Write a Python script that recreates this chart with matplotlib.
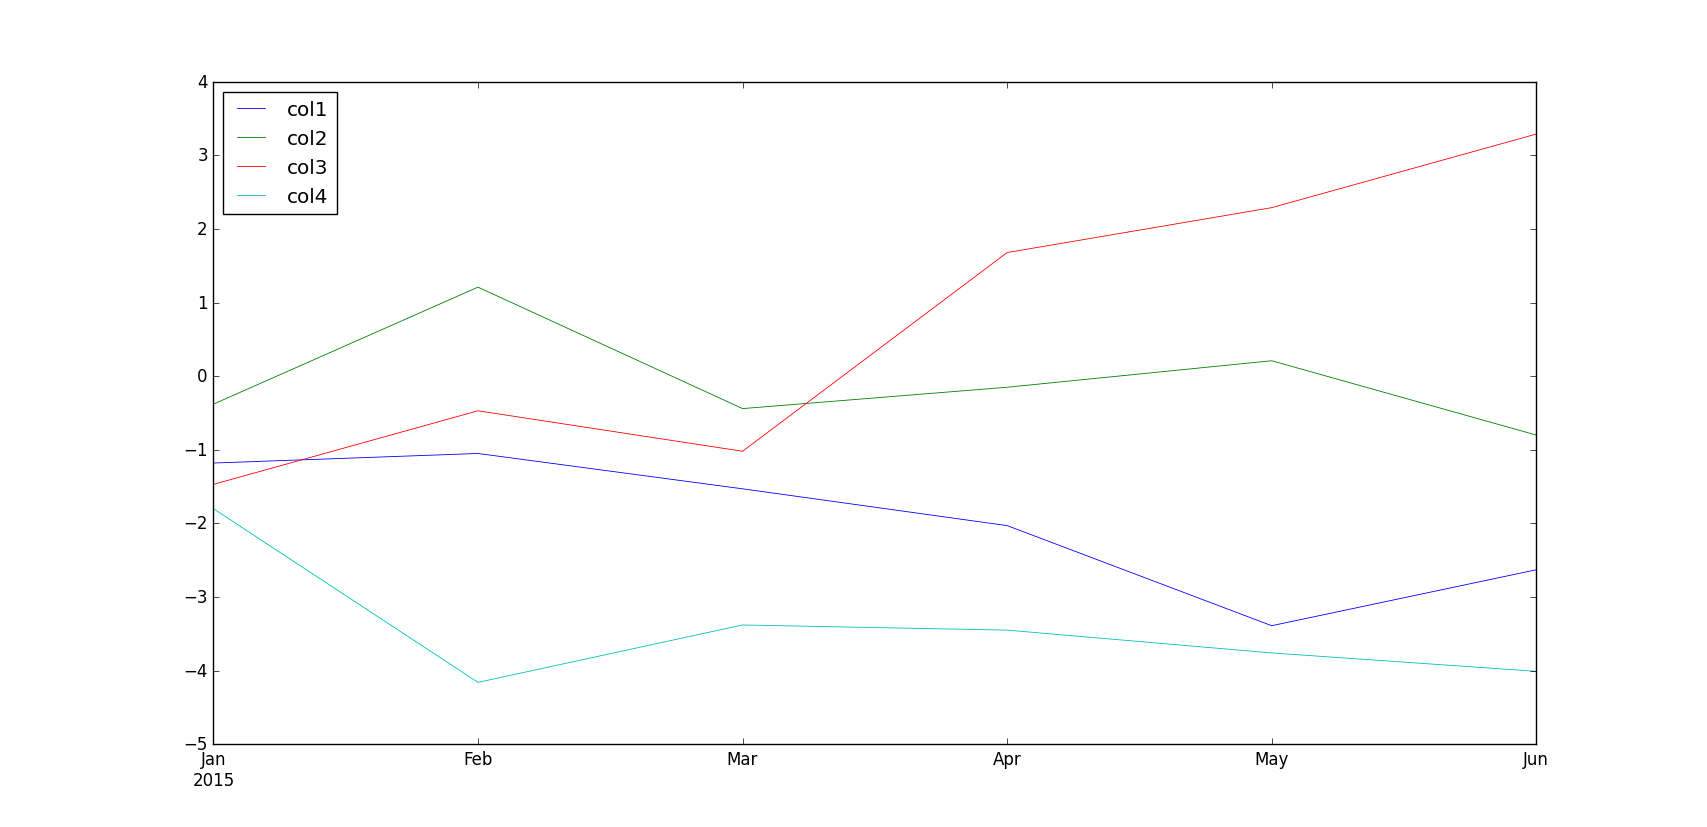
import matplotlib
matplotlib.use("Agg")
import matplotlib.pyplot as plt

plt.style.use("classic")

months = ["Jan\n2015", "Feb", "Mar", "Apr", "May", "Jun"]
col1 = [-1.18, -1.05, -1.53, -2.03, -3.39, -2.63]
col2 = [-0.38, 1.21, -0.44, -0.15, 0.21, -0.80]
col3 = [-1.47, -0.47, -1.02, 1.68, 2.29, 3.29]
col4 = [-1.80, -4.16, -3.38, -3.45, -3.76, -4.01]

x = list(range(len(months)))

fig, ax = plt.subplots(figsize=(17.07, 8.28), dpi=100)
lw = 0.6
ax.plot(x, col1, color="b", lw=lw, label="col1")
ax.plot(x, col2, color="g", lw=lw, label="col2")
ax.plot(x, col3, color="r", lw=lw, label="col3")
ax.plot(x, col4, color="c", lw=lw, label="col4")

ax.set_xlim(0, 5)
ax.set_ylim(-5, 4)
ax.set_xticks(x)
ax.set_xticklabels(months)
ax.legend(loc="upper left")

fig.savefig("out.png", dpi=100)
